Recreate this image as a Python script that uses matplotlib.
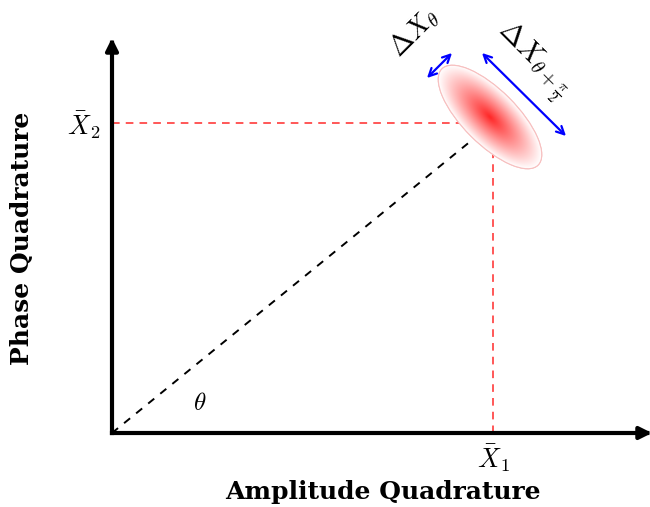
import numpy as np
import matplotlib.pyplot as plt
from matplotlib.patches import Ellipse, FancyArrowPatch

plt.rcParams['mathtext.fontset'] = 'cm'
plt.rcParams['font.family'] = 'serif'
plt.rcParams['font.serif'] = ['DejaVu Serif']

# diagram geometry, in pixel units of the 650x507 canvas (y grows downward)
origin = (112, 433)
x_axis_end = (652, 433)
y_axis_end = (112, 38)
mean_point = (493, 123)          # (X1 bar, X2 bar)
ellipse_center = (490, 117)
ellipse_axes = (136, 54)         # major, minor (full lengths)
ellipse_angle = 45               # degrees, data coords (y down -> screen down-right)
arrow_theta = [(427, 78), (452, 53)]
arrow_theta_pi2 = [(482, 53), (566, 136)]

fig = plt.figure(figsize=(6.5, 5.07), dpi=100)
ax = fig.add_axes([0, 0, 1, 1])

# red dashed guide lines
ax.plot([origin[0], mean_point[0]], [mean_point[1], mean_point[1]],
        color='#ff2a2a', lw=1.1, dashes=(5, 4), zorder=2)
ax.plot([mean_point[0], mean_point[0]], [mean_point[1], origin[1]],
        color='#ff2a2a', lw=1.1, dashes=(5, 4), zorder=2)
# black dashed line from the origin
ax.plot([origin[0], mean_point[0]], [origin[1], mean_point[1]],
        color='black', lw=1.4, dashes=(4, 4), zorder=2)

# squeezed state ellipse with radial shading
cx, cy = ellipse_center
a, b = ellipse_axes[0] / 2, ellipse_axes[1] / 2
ang = np.deg2rad(ellipse_angle)
xs = np.linspace(cx - 72, cx + 72, 300)
ys = np.linspace(cy - 72, cy + 72, 300)
X, Y = np.meshgrid(xs, ys)
u = (X - cx) * np.cos(ang) + (Y - cy) * np.sin(ang)
v = -(X - cx) * np.sin(ang) + (Y - cy) * np.cos(ang)
r = np.sqrt((u / a) ** 2 + (v / b) ** 2)
t = np.clip(r, 0, 1) ** 1.0
img = np.zeros(X.shape + (3,))
img[..., 0] = 1.0
img[..., 1] = 0.15 + 0.85 * t
img[..., 2] = 0.15 + 0.85 * t
ell = Ellipse((cx, cy), ellipse_axes[0], ellipse_axes[1], angle=ellipse_angle,
              facecolor='white', edgecolor='#f7b8b8', lw=0.8, zorder=3)
ax.add_patch(ell)
im = ax.imshow(img, extent=(xs[0], xs[-1], ys[0], ys[-1]), origin='lower',
               zorder=4, interpolation='bilinear')
im.set_clip_path(ell)
ax.add_patch(Ellipse((cx, cy), ellipse_axes[0], ellipse_axes[1], angle=ellipse_angle,
                     facecolor='none', edgecolor='#f7c0c0', lw=0.8, zorder=5))

# axes arrows
for end in [x_axis_end, y_axis_end]:
    ax.add_patch(FancyArrowPatch(origin, end, arrowstyle='-|>', mutation_scale=18,
                                 lw=3, color='black', shrinkA=0, shrinkB=0,
                                 capstyle='projecting', zorder=6))

# blue uncertainty arrows
for p0, p1 in [arrow_theta, arrow_theta_pi2]:
    ax.add_patch(FancyArrowPatch(p0, p1, arrowstyle='<->', mutation_scale=14,
                                 lw=1.6, color='#0000ff', shrinkA=0, shrinkB=0,
                                 zorder=6))

# labels
ax.text(100, 125, r'$\bar{X}_2$', fontsize=19, ha='right', va='center')
ax.text(493, 458, r'$\bar{X}_1$', fontsize=19, ha='center', va='center')
ax.text(200, 404, r'$\theta$', fontsize=18, ha='center', va='center')
ax.text(414, 32, r'$\Delta X_\theta$', fontsize=20, ha='center', va='center',
        rotation=45)
ax.text(532, 61, r'$\Delta X_{\theta+\frac{\pi}{2}}$', fontsize=21, ha='center',
        va='center', rotation=-45)
ax.text(383, 492, 'Amplitude Quadrature', fontsize=18, fontweight='bold',
        ha='center', va='center')
ax.text(22, 238, 'Phase Quadrature', fontsize=18, fontweight='bold',
        ha='center', va='center', rotation=90)

ax.set_xlim(0, 650)
ax.set_ylim(507, 0)
ax.axis('off')
fig.savefig('out.png', dpi=100)
